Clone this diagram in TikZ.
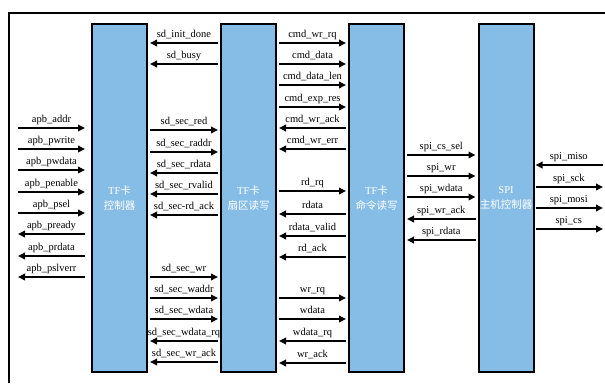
\documentclass[tikz,border=0pt]{standalone}
\usepackage{fontspec}
\setmainfont{Liberation Serif}
\newfontfamily\cjk{Noto Sans CJK SC}
\usetikzlibrary{arrows.meta}
\definecolor{boxblue}{HTML}{86BDE7}
\newcommand\arrR[4]{\draw[sig] (#1.east|-0,#3) -- node[lbl]{#4} (#2.west|-0,#3);}
\newcommand\arrL[4]{\draw[sig] (#2.west|-0,#3) -- node[lbl]{#4} (#1.east|-0,#3);}
\begin{document}
\begin{tikzpicture}[x=1pt,y=-1pt,
  blk/.style={draw=black, line width=2pt, fill=boxblue, minimum width=55pt, minimum height=348pt,
    inner sep=0pt, align=center, text=white, font=\fontsize{10.5}{15}\selectfont},
  sig/.style={line width=1.8pt, -{Triangle[length=7pt,width=6.5pt]}, shorten <=2pt, shorten >=2pt},
  lbl/.style={font=\fontsize{10.5}{12}\selectfont, anchor=base, yshift=5.5pt, inner sep=0pt}]
\useasboundingbox (0,0) rectangle (605,383);
\draw[line width=1.5pt] (605,13) -- (9,13) -- (9,383);
\node[blk] (b1) at (119.5,198) {TF{\cjk 卡}\\{\cjk 控制器}};
\node[blk] (b2) at (248.5,198) {TF{\cjk 卡}\\{\cjk 扇区读写}};
\node[blk] (b3) at (376.5,198) {TF{\cjk 卡}\\{\cjk 命令读写}};
\node[blk] (b4) at (506,198) {SPI\\{\cjk 主机控制器}};
\coordinate (L) at (18,0);
\coordinate (R) at (603,0);
% left of b1
\foreach \y/\t in {128/apb\_addr,149/apb\_pwrite,170/apb\_pwdata,192/apb\_penable,213/apb\_psel}
  \draw[sig, shorten <=0pt, shorten >=6pt] (L|-0,\y) -- node[lbl, xshift=-3pt]{\t} (b1.west|-0,\y);
\foreach \y/\t in {234/apb\_pready,256/apb\_prdata,277/apb\_pslverr}
  \draw[sig, shorten <=6pt, shorten >=0pt] (b1.west|-0,\y) -- node[lbl, xshift=-3pt]{\t} (L|-0,\y);
% b1 - b2
\arrL{b1}{b2}{43}{sd\_init\_done}
\arrL{b1}{b2}{64}{sd\_busy}
\arrR{b1}{b2}{130}{sd\_sec\_red}
\arrR{b1}{b2}{152}{sd\_sec\_raddr}
\arrL{b1}{b2}{173}{sd\_sec\_rdata}
\arrL{b1}{b2}{194}{sd\_sec\_rvalid}
\arrL{b1}{b2}{215}{sd\_sec-rd\_ack}
\arrR{b1}{b2}{277}{sd\_sec\_wr}
\arrR{b1}{b2}{298}{sd\_sec\_waddr}
\arrR{b1}{b2}{319}{sd\_sec\_wdata}
\arrL{b1}{b2}{341}{sd\_sec\_wdata\_rq}
\arrL{b1}{b2}{362}{sd\_sec\_wr\_ack}
% b2 - b3
\arrR{b2}{b3}{43}{cmd\_wr\_rq}
\arrR{b2}{b3}{64}{cmd\_data}
\arrR{b2}{b3}{85}{cmd\_data\_len}
\arrR{b2}{b3}{107}{cmd\_exp\_res}
\arrL{b2}{b3}{128}{cmd\_wr\_ack}
\arrL{b2}{b3}{149}{cmd\_wr\_err}
\arrR{b2}{b3}{191}{rd\_rq}
\arrL{b2}{b3}{214}{rdata}
\arrL{b2}{b3}{236}{rdata\_valid}
\arrL{b2}{b3}{257}{rd\_ack}
\arrR{b2}{b3}{298}{wr\_rq}
\arrR{b2}{b3}{319}{wdata}
\arrL{b2}{b3}{341}{wdata\_rq}
\arrL{b2}{b3}{363}{wr\_ack}
% b3 - b4
\arrR{b3}{b4}{155}{spi\_cs\_sel}
\arrR{b3}{b4}{176}{spi\_wr}
\arrR{b3}{b4}{197}{spi\_wdata}
\arrL{b3}{b4}{219}{spi\_wr\_ack}
\arrL{b3}{b4}{240}{spi\_rdata}
% right of b4
\draw[sig, shorten <=0pt, shorten >=1pt] (R|-0,165) -- node[lbl]{spi\_miso} (b4.east|-0,165);
\foreach \y/\t in {187/spi\_sck,208/spi\_mosi,229/spi\_cs}
  \draw[sig, shorten <=1pt, shorten >=0pt] (b4.east|-0,\y) -- node[lbl]{\t} (R|-0,\y);
\end{tikzpicture}
\end{document}
